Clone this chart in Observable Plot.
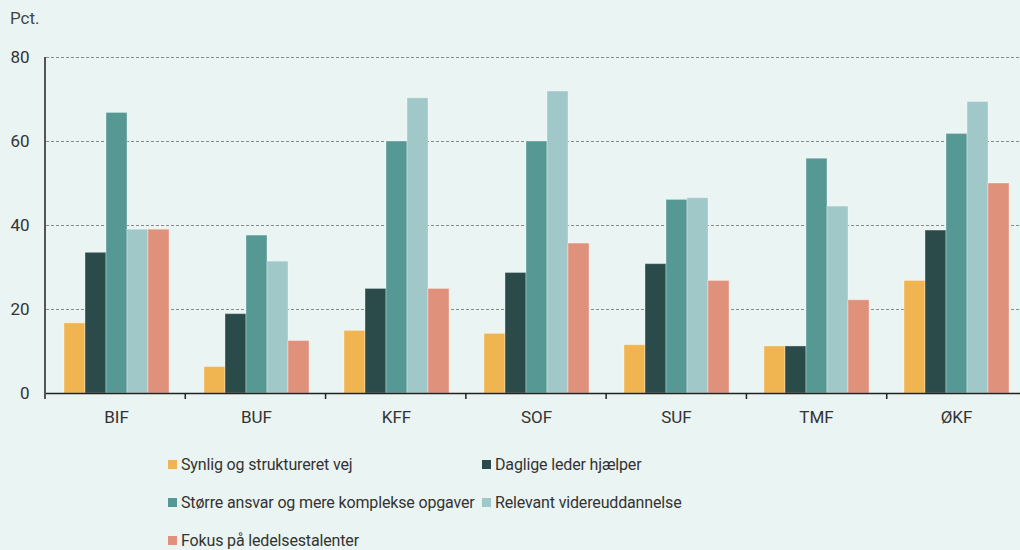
<!DOCTYPE html>
<html><head><meta charset="utf-8">
<script src="https://cdn.jsdelivr.net/npm/d3@7"></script>
<script src="https://cdn.jsdelivr.net/npm/@observablehq/plot@0.6"></script>
<style>
html,body{margin:0;padding:0;}
body{background:#eaf4f2;font-family:Roboto,sans-serif;color:#333;width:1020px;height:550px;overflow:hidden;position:relative;}
#unit{position:absolute;left:10px;top:10px;font-size:17px;line-height:17px;color:#444;}
#chart svg{display:block;}
#legend{display:grid;grid-template-columns:314px auto;grid-auto-rows:38px;padding-left:168px;font-size:16px;letter-spacing:-0.15px;color:#333;}
#legend .item{display:flex;align-items:center;white-space:nowrap;}
#legend .sw{width:9px;height:9px;margin-right:4px;flex:none;}
</style></head><body>
<div id="unit">Pct.</div>
<div id="chart"></div>
<div id="legend"></div>
<script>
const groups = ["BIF", "BUF", "KFF", "SOF", "SUF", "TMF", "ØKF"];
const seriesNames = [
  "Synlig og struktureret vej",
  "Daglige leder hjælper",
  "Større ansvar og mere komplekse opgaver",
  "Relevant videreuddannelse",
  "Fokus på ledelsestalenter"
];
const synlig   = [16.7, 6.3, 14.9, 14.2, 11.5, 11.2, 26.8];
const daglige  = [33.5, 18.9, 24.9, 28.7, 30.8, 11.2, 38.8];
const stoerre  = [66.8, 37.6, 60.0, 60.0, 46.1, 55.9, 61.8];
const relevant = [39.0, 31.4, 70.3, 71.9, 46.5, 44.5, 69.4];
const fokus    = [39.0, 12.5, 24.9, 35.7, 26.8, 22.2, 50.0];
const yTicks = [0, 20, 40, 60, 80];
const colors = ["#f0b550", "#2b4b4b", "#559894", "#a0c8c8", "#e0917b"];

const seriesValues = [synlig, daglige, stoerre, relevant, fokus];
const data = [];
groups.forEach((g, i) => {
  seriesNames.forEach((s, j) => data.push({group: g, series: s, value: seriesValues[j][i]}));
});

const chart = Plot.plot({
  width: 1020,
  height: 445,
  marginLeft: 45,
  marginRight: -7,
  marginTop: 57,
  marginBottom: 52,
  style: {background: "transparent", fontFamily: "Roboto, sans-serif", fontSize: "17px", color: "#333"},
  fx: {domain: groups, paddingInner: 0, paddingOuter: 0, label: null, tickSize: 0, tickPadding: 17, axis: "bottom"},
  x: {domain: seriesNames, paddingInner: 0, paddingOuter: 0.755, axis: null},
  y: {domain: [0, 80], ticks: yTicks, label: null, tickSize: 0, tickPadding: 17},
  color: {domain: seriesNames, range: colors},
  marks: [
    Plot.gridY(yTicks.filter(d => d > 0), {stroke: "#8a8a8a", strokeOpacity: 1, strokeDasharray: "3,2"}),
    Plot.barY(data, {fx: "group", x: "series", y: "value", fill: "series", stroke: "#ffffff", strokeOpacity: 0.35, strokeWidth: 1}),
    Plot.ruleY([0], {stroke: "#222", strokeWidth: 1.5})
  ]
});
document.getElementById("chart").appendChild(chart);

// axis line and band-boundary ticks, placed via the plot's own scales
const svg = d3.select(chart);
let fxs, ys;
try { fxs = chart.scale("fx"); } catch (e) { fxs = null; }
ys = chart.scale("y");
const bandScale = d3.scaleBand().domain(groups).range(fxs ? fxs.range : [45, 1027]).paddingInner(0).paddingOuter(0);
const bw = bandScale.bandwidth();
const y0 = ys.apply(0), yTop = ys.apply(80);
const g = svg.append("g").attr("stroke", "#222").attr("stroke-width", 1.5);
const xStart = bandScale(groups[0]);
g.append("line").attr("x1", xStart).attr("x2", xStart).attr("y1", yTop).attr("y2", y0 + 6);
groups.forEach(d => {
  const xb = bandScale(d) + bw;
  g.append("line").attr("x1", xb).attr("x2", xb).attr("y1", y0).attr("y2", y0 + 6);
});

// legend
const legend = d3.select("#legend");
seriesNames.forEach((s, i) => {
  const it = legend.append("div").attr("class", "item");
  it.append("span").attr("class", "sw").style("background", colors[i]);
  it.append("span").text(s);
});
</script>
</body></html>
